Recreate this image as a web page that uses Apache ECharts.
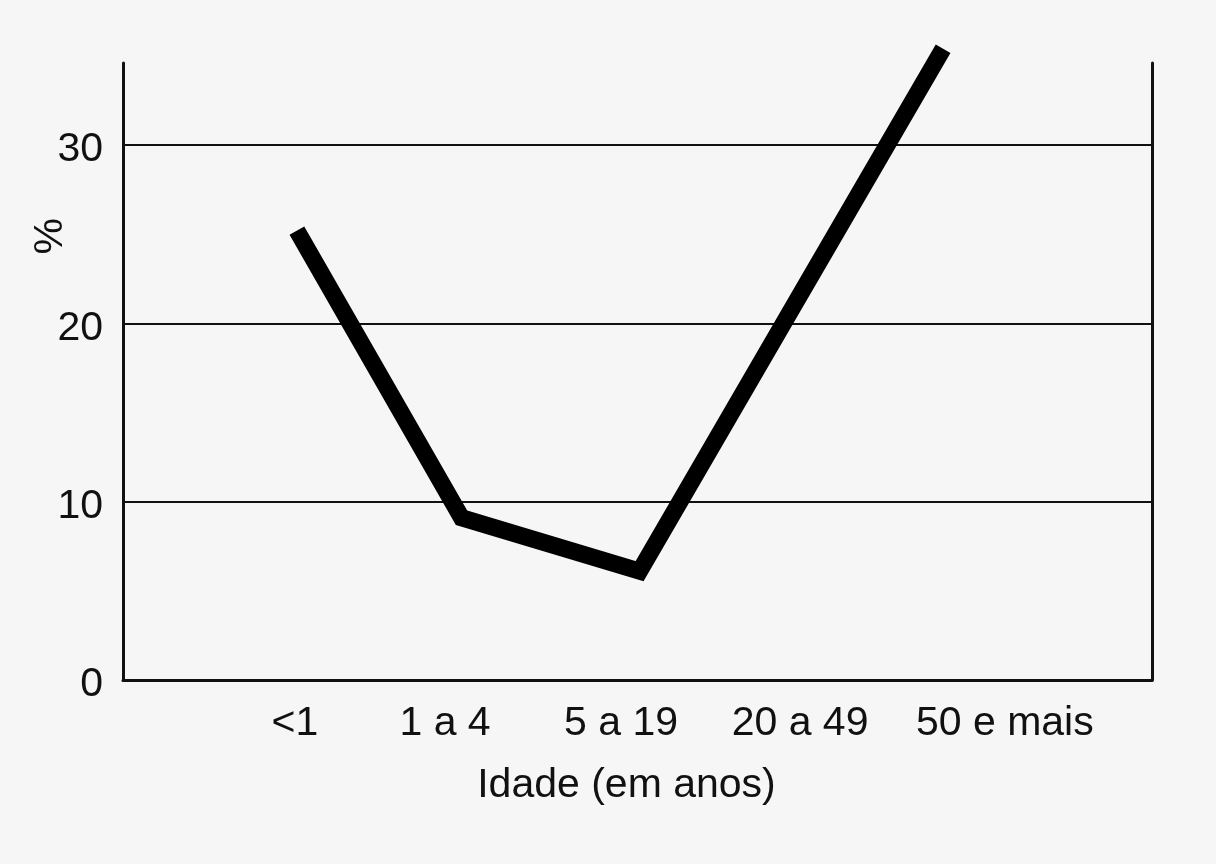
<!DOCTYPE html>
<html>
<head>
<meta charset="utf-8">
<script src="https://cdn.jsdelivr.net/npm/echarts@6/dist/echarts.min.js"></script>
<style>
html,body{margin:0;padding:0;background:#f6f6f6;}
#c{width:1216px;height:864px;}
</style>
</head>
<body>
<div id="c"></div>
<script>
// Age groups (category labels) and their label positions along the horizontal axis (0-100 scale)
const categories = ['<1', '1 a 4', '5 a 19', '20 a 49', '50 e mais'];
const labelPos = [16.7, 31.3, 48.4, 65.8, 85.7];
// Line vertices: horizontal position (0-100 scale) and value (%)
const pointPos = [16.9, 32.9, 50.2, 65.8, 79.7];
const values = [25.2, 9.1, 6.1, 21.6, 35.4];
const yTicks = [0, 10, 20, 30];

const ink = '#111';
const font = 'Liberation Sans, Arial, Helvetica, sans-serif';

const chart = echarts.init(document.getElementById('c'));
chart.setOption({
  backgroundColor: '#f6f6f6',
  animation: false,
  grid: { left: 123, right: 64, top: 63, bottom: 184 },
  xAxis: {
    type: 'value', min: 0, max: 100,
    axisLine: { show: true, lineStyle: { color: ink, width: 3 } },
    axisTick: { show: false },
    splitLine: { show: false },
    axisLabel: {
      customValues: labelPos,
      formatter: function (v) {
        const i = labelPos.indexOf(v);
        return i >= 0 ? categories[i] : '';
      },
      color: ink, fontFamily: font, fontSize: 41, margin: 23
    },
    name: 'Idade (em anos)',
    nameLocation: 'middle',
    nameGap: 85,
    nameTextStyle: { color: ink, fontFamily: font, fontSize: 41, padding: [0, 22, 0, 0] }
  },
  yAxis: [{
    type: 'value', min: 0, max: 34.6, interval: 10,
    axisLine: { show: true, lineStyle: { color: ink, width: 3 } },
    axisTick: { show: false },
    axisLabel: {
      customValues: yTicks, margin: 20,
      formatter: function (v) { return '{a|' + v + '}'; },
      rich: { a: { color: ink, fontFamily: font, fontSize: 41, padding: [10, 0, 0, 0] } }
    },
    splitLine: { show: true, lineStyle: { color: [ink, ink, ink, ink, 'rgba(0,0,0,0)'], width: 2 } }
  }, {
    type: 'value', min: 0, max: 34.6, position: 'right',
    axisLine: { show: true, lineStyle: { color: ink, width: 3 } },
    axisTick: { show: false }, axisLabel: { show: false }, splitLine: { show: false }
  }],
  graphic: [{
    type: 'text', left: 30, top: 218, rotation: Math.PI / 2,
    style: { text: '%', font: '41px ' + font, fill: ink }
  }],
  series: [{
    type: 'line',
    clip: false,
    symbol: 'none',
    data: pointPos.map((x, i) => [x, values[i]]),
    lineStyle: { color: '#000', width: 17, cap: 'butt', join: 'miter' }
  }]
});
</script>
</body>
</html>
